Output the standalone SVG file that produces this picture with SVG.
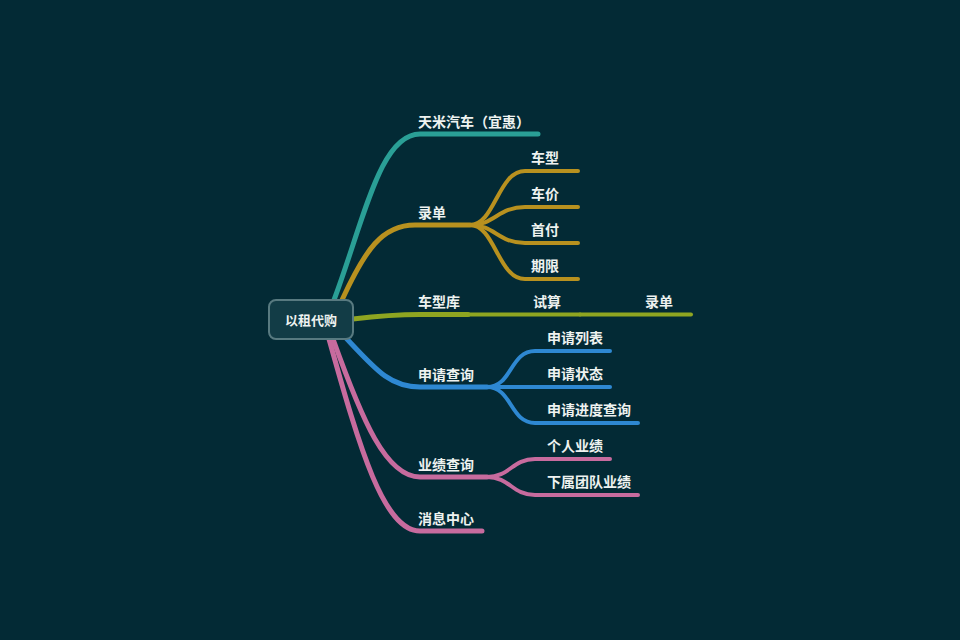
<svg xmlns="http://www.w3.org/2000/svg" width="960" height="640" viewBox="0 0 960 640">
<style>
.t{font-family:"Noto Sans CJK SC","Noto Sans",sans-serif;font-size:14px;font-weight:bold;fill:#eef2f0}
.l{fill:none;stroke-linecap:round;stroke-linejoin:round}
.m{stroke-width:5}
.s{stroke-width:4}
.teal{stroke:#2a9f96}
.gold{stroke:#b8911f}
.olive{stroke:#8fa521}
.blue{stroke:#2e88d2}
.pink{stroke:#c76b9e}
</style>
<rect width="960" height="640" fill="#032a35"/>
<g id="connectors">
<path class="l m teal" d="M334,300 C364,220 380,134 420,134 L538,134"/>
<path class="l m gold" d="M342,300 C365,250 382,225 415,225 L470,225"/>
<path class="l s gold" d="M470,225 C495,225 498,171 525,171 L578,171"/>
<path class="l s gold" d="M470,225 C495,225 498,207 525,207 L578,207"/>
<path class="l s gold" d="M470,225 C495,225 498,243 525,243 L578,243"/>
<path class="l s gold" d="M470,225 C495,225 498,279 525,279 L578,279"/>
<path class="l m olive" d="M353,319 C378,316 392,314.5 420,314.5 L468,314.5"/>
<path class="l s olive" d="M468,314.5 L580,314.5"/>
<path class="l s olive" d="M580,314.5 L691,314.5"/>
<path class="l m blue" d="M346,338 C376,370 390,387 420,387 L487,387"/>
<path class="l s blue" d="M487,387 C512,387 510,351 535,351 L610,351"/>
<path class="l s blue" d="M487,387 L610,387"/>
<path class="l s blue" d="M487,387 C512,387 510,423 535,423 L638,423"/>
<path class="l m pink" d="M333,339 C362,420 386,477 420,477 L487,477"/>
<path class="l s pink" d="M487,477 C510,477 512,459 535,459 L610,459"/>
<path class="l s pink" d="M487,477 C510,477 512,495 535,495 L638,495"/>
<path class="l m pink" d="M329,339 C360,450 384,531 420,531 L482,531"/>
</g>
<g id="root">
<rect x="269" y="300" width="84" height="39" rx="7" fill="#123c46" stroke="#587a80" stroke-width="2"/>
<text class="t" x="311" y="325" text-anchor="middle" style="font-size:13px">以租代购</text>
</g>
<g id="n-tianmi"><text class="t" x="418" y="127">天米汽车（宜惠）</text></g>
<g id="n-ludan"><text class="t" x="418" y="218">录单</text></g>
<g id="n-chexing"><text class="t" x="531" y="163">车型</text></g>
<g id="n-chejia"><text class="t" x="531" y="199">车价</text></g>
<g id="n-shoufu"><text class="t" x="531" y="235">首付</text></g>
<g id="n-qixian"><text class="t" x="531" y="271">期限</text></g>
<g id="n-chexingku"><text class="t" x="418" y="307">车型库</text></g>
<g id="n-shisuan"><text class="t" x="533" y="307">试算</text></g>
<g id="n-ludan2"><text class="t" x="645" y="307">录单</text></g>
<g id="n-shenqing"><text class="t" x="418" y="380">申请查询</text></g>
<g id="n-liebiao"><text class="t" x="547" y="343">申请列表</text></g>
<g id="n-zhuangtai"><text class="t" x="547" y="379">申请状态</text></g>
<g id="n-jindu"><text class="t" x="547" y="415">申请进度查询</text></g>
<g id="n-yeji"><text class="t" x="418" y="470">业绩查询</text></g>
<g id="n-geren"><text class="t" x="547" y="451">个人业绩</text></g>
<g id="n-xiashu"><text class="t" x="547" y="487">下属团队业绩</text></g>
<g id="n-xiaoxi"><text class="t" x="418" y="524">消息中心</text></g>
</svg>
